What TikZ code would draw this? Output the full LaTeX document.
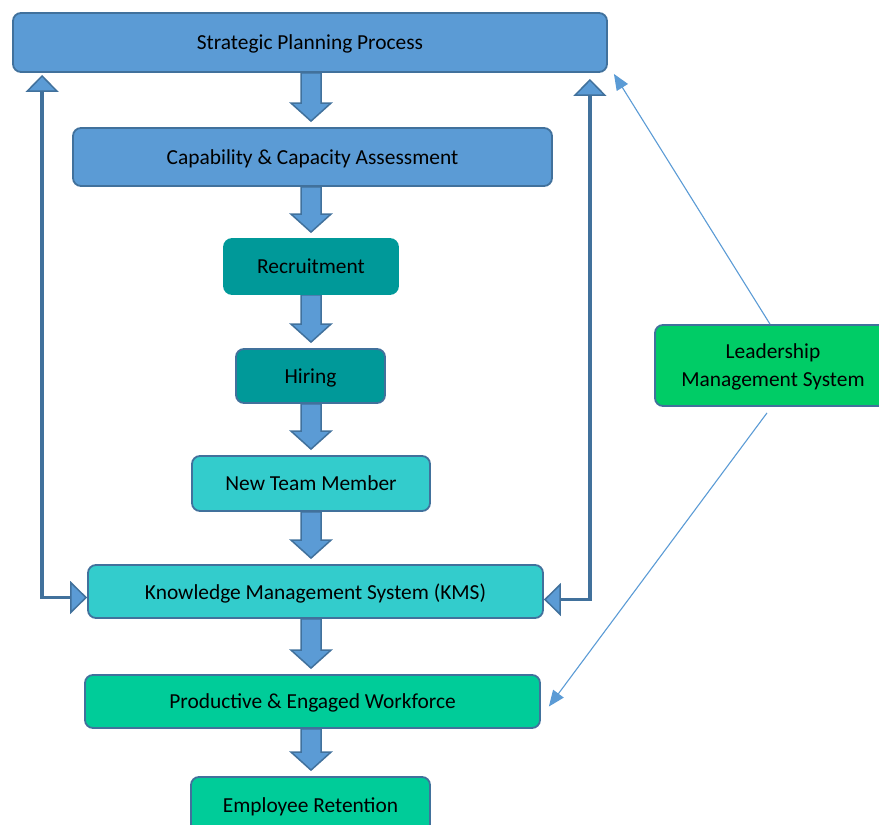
\documentclass[tikz,border=0pt]{standalone}
\usepackage{fontspec}
\setmainfont{Carlito}
\usetikzlibrary{arrows.meta,calc,backgrounds}

\definecolor{boxline}{RGB}{65,113,156}
\definecolor{arrowfill}{RGB}{91,155,213}
\definecolor{planblue}{RGB}{91,155,213}
\definecolor{teal}{RGB}{0,153,153}
\definecolor{aqua}{RGB}{51,204,204}
\definecolor{seagreen}{RGB}{0,204,153}
\definecolor{leadgreen}{RGB}{0,204,102}

\tikzset{
  box/.style={draw=boxline, line width=1.8pt, rounded corners=8pt,
    inner sep=0pt, align=center, text=black, text depth=0pt,
    font=\fontsize{21.4}{28}\selectfont},
  blockarrow/.style={draw=boxline, fill=arrowfill, line width=1.5pt, line join=miter},
  feedback/.style={draw=boxline, line width=3.6pt,
    {Triangle[width=33pt,length=17pt,fill=arrowfill,line width=1.5pt]}-{Triangle[width=33pt,length=17pt,fill=arrowfill,line width=1.5pt]}},
  influence/.style={draw=arrowfill, line width=1.1pt,
    -{Triangle[width=13pt,length=16pt]}}
}

% downward block arrow from one box to the next
\newcommand\flowarrow[2]{%
  \filldraw[blockarrow] let \p1=(#1.south), \p2=(#2.north) in
    (301pt,\y1) -- (321pt,\y1) -- (321pt,\y2+24pt) -- (331pt,\y2+24pt)
    -- (311pt,\y2+6pt) -- (291pt,\y2+24pt) -- (301pt,\y2+24pt) -- cycle;}

\begin{document}
\begin{tikzpicture}[x=1pt,y=-1pt]
\useasboundingbox (0,0) rectangle (879,825);

\node[box, fill=planblue, minimum width=594pt, minimum height=59pt] (strat) at (310,42.5) {Strategic Planning Process};
\node[box, fill=planblue, minimum width=479pt, minimum height=58pt] (cap) at (312.5,157) {Capability \& Capacity Assessment};
\node[box, fill=teal, draw=teal, minimum width=174pt, minimum height=55pt] (recr) at (311,266.5) {Recruitment};
\node[box, fill=teal, minimum width=149pt, minimum height=54pt] (hire) at (310.5,376) {Hiring};
\node[box, fill=aqua, minimum width=238pt, minimum height=55pt] (ntm) at (311,483.5) {New Team Member};
\node[box, fill=aqua, minimum width=455pt, minimum height=53pt] (kms) at (315.5,591.5) {Knowledge Management System (KMS)};
\node[box, fill=seagreen, minimum width=455pt, minimum height=53pt] (prod) at (312.5,701.5) {Productive \& Engaged Workforce};
\node[box, fill=seagreen, minimum width=239pt, minimum height=56pt] (ret) at (310.5,805) {Employee Retention};
\node[box, fill=leadgreen, minimum width=236pt, minimum height=81pt] (lead) at (773,365.5) {Leadership\\Management System};

\begin{scope}[on background layer]
  \flowarrow{strat}{cap}
  \flowarrow{cap}{recr}
  \flowarrow{recr}{hire}
  \flowarrow{hire}{ntm}
  \flowarrow{ntm}{kms}
  \flowarrow{kms}{prod}
  \flowarrow{prod}{ret}
\end{scope}

% feedback loops from the KMS back to strategic planning
\draw[feedback] ($(kms.west)+(0,6)$) -| ($(strat.south west)+(30,2)$);
\draw[feedback] ($(kms.east)+(0,8)$) -| ($(strat.south east)+(-18,6)$);

% leadership influence
\coordinate (leadtop) at ($(strat.south east)+(6,1)$);
\coordinate (leadlow) at ($(prod.east)+(8,5)$);
\draw[influence] ($(lead.north)+(-3,0)$) -- (leadtop);
\draw[influence] ($(lead.south)+(-6,6)$) -- (leadlow);
\end{tikzpicture}
\end{document}
